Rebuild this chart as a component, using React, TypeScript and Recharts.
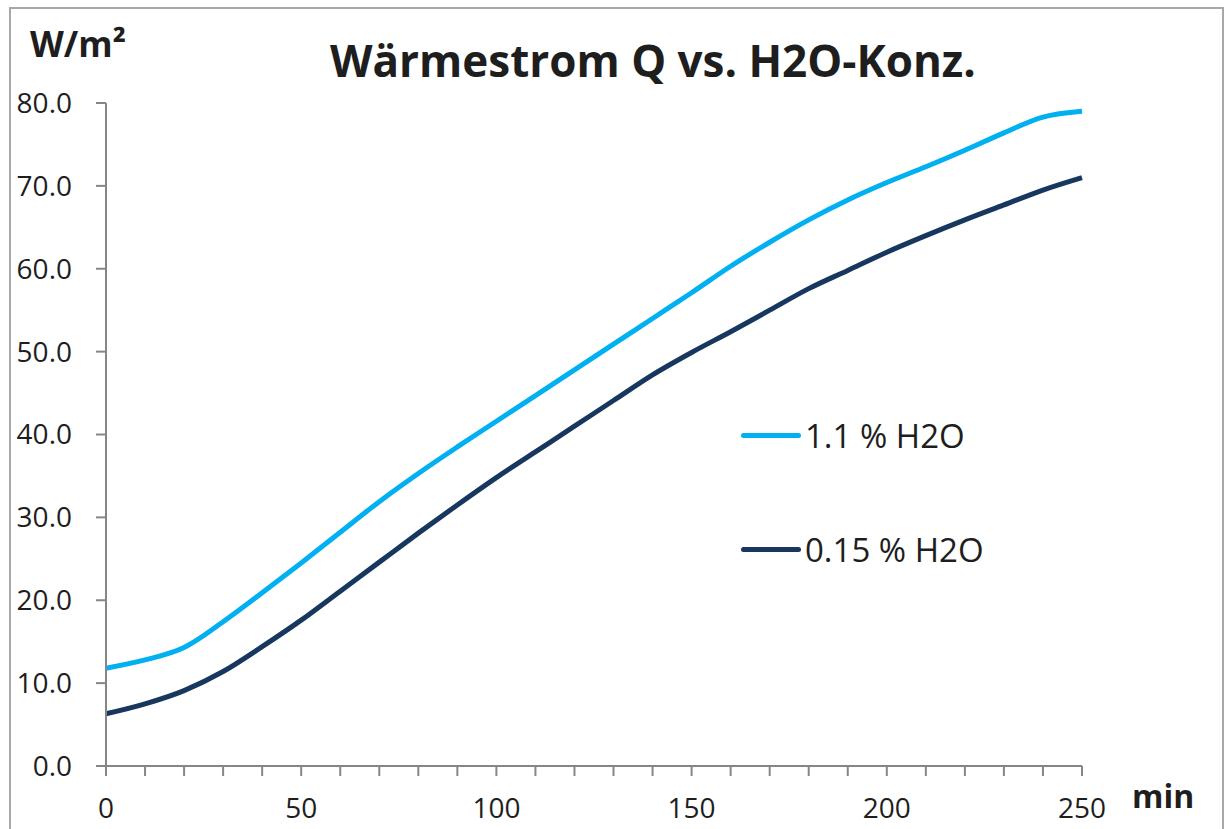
import { Line, LineChart, XAxis, YAxis } from "recharts";

const minutes = [
  0, 10, 20, 30, 40, 50, 60, 70, 80, 90, 100, 110, 120, 130, 140, 150, 160,
  170, 180, 190, 200, 210, 220, 230, 240, 250,
];

// 1.1 % H2O
const highWater = [
  11.8, 12.8, 14.3, 17.4, 20.9, 24.5, 28.2, 31.9, 35.3, 38.5, 41.6, 44.7, 47.8,
  50.9, 54.0, 57.1, 60.3, 63.2, 65.9, 68.3, 70.4, 72.3, 74.3, 76.4, 78.3, 79.0,
];

// 0.15 % H2O
const lowWater = [
  6.3, 7.5, 9.1, 11.4, 14.4, 17.6, 21.1, 24.6, 28.1, 31.5, 34.8, 37.9, 41.0,
  44.1, 47.2, 49.9, 52.4, 55.0, 57.6, 59.8, 62.0, 64.0, 65.9, 67.7, 69.5, 71.0,
];

const xTicks = minutes;
const yTicks = [0, 10, 20, 30, 40, 50, 60, 70, 80];

const series = [
  { key: "high", name: "1.1 % H2O", color: "#00b0f0" },
  { key: "low", name: "0.15 % H2O", color: "#17375e" },
];

const data = minutes.map((m, i) => ({
  min: m,
  high: highWater[i],
  low: lowWater[i],
}));

const FONT = "'Open Sans', 'Noto Sans', sans-serif";
const TEXT = "#1e1e1e";
const AXIS = "#868686";

function XTick(props: any) {
  const { x, y, payload } = props;
  if (payload.value % 50 !== 0) return <g />;
  return (
    <text
      x={x}
      y={y}
      dy="0.71em"
      textAnchor="middle"
      fill={TEXT}
      fontSize={28}
      fontFamily={FONT}
    >
      {payload.value}
    </text>
  );
}

function ChartLegend() {
  return (
    <div
      style={{
        position: "absolute",
        left: 741,
        top: 414,
        fontFamily: FONT,
        fontSize: 33,
        color: TEXT,
      }}
    >
      {series.map((s, i) => (
        <div
          key={s.key}
          style={{
            display: "flex",
            alignItems: "center",
            height: 42,
            marginBottom: i === 0 ? 72 : 0,
            whiteSpace: "nowrap",
          }}
        >
          <span
            style={{
              display: "inline-block",
              width: 60,
              height: 5,
              borderRadius: 3,
              background: s.color,
              marginRight: 4,
            }}
          />
          <span>{s.name}</span>
        </div>
      ))}
    </div>
  );
}

export default function App() {
  return (
    <div
      style={{
        position: "absolute",
        left: 0,
        top: 0,
        width: 1225,
        height: 829,
        overflow: "hidden",
        background: "#fff",
      }}
    >
      <div
        style={{
          position: "absolute",
          left: 9,
          top: 7,
          width: 1211,
          height: 900,
          border: "2px solid #a8a8a8",
        }}
      />
      <div style={{ position: "absolute", left: 0, top: 0 }}>
        <LineChart
          width={1225}
          height={829}
          data={data}
          margin={{ top: 103, right: 143, left: 0, bottom: 0 }}
        >
          <XAxis
            dataKey="min"
            type="number"
            domain={[0, 250]}
            ticks={xTicks}
            interval={0}
            height={63}
            tick={<XTick />}
            tickSize={10}
            tickMargin={22}
            axisLine={{ stroke: AXIS, strokeWidth: 2 }}
            tickLine={{ stroke: AXIS, strokeWidth: 2 }}
          />
          <YAxis
            type="number"
            domain={[0, 80]}
            ticks={yTicks}
            interval={0}
            width={106}
            tickFormatter={(v: number) => v.toFixed(1)}
            tick={{ fill: TEXT, fontSize: 28, fontFamily: FONT }}
            tickSize={10}
            tickMargin={24}
            axisLine={{ stroke: AXIS, strokeWidth: 2 }}
            tickLine={{ stroke: AXIS, strokeWidth: 2 }}
          />
          {series.map((s) => (
            <Line
              key={s.key}
              type="monotone"
              dataKey={s.key}
              name={s.name}
              stroke={s.color}
              strokeWidth={5}
              dot={false}
              isAnimationActive={false}
            />
          ))}
        </LineChart>
      </div>
      <div
        style={{
          position: "absolute",
          left: 30,
          top: 20,
          fontFamily: FONT,
          fontWeight: 700,
          fontSize: 35,
          color: TEXT,
        }}
      >
        W/m²
      </div>
      <div
        style={{
          position: "absolute",
          left: 330,
          top: 30,
          fontFamily: FONT,
          fontWeight: 700,
          fontSize: 44,
          color: TEXT,
          whiteSpace: "nowrap",
        }}
      >
        Wärmestrom Q vs. H2O-Konz.
      </div>
      <div
        style={{
          position: "absolute",
          left: 1132,
          top: 774,
          fontFamily: FONT,
          fontWeight: 700,
          fontSize: 32,
          color: TEXT,
        }}
      >
        min
      </div>
      <ChartLegend />
    </div>
  );
}
